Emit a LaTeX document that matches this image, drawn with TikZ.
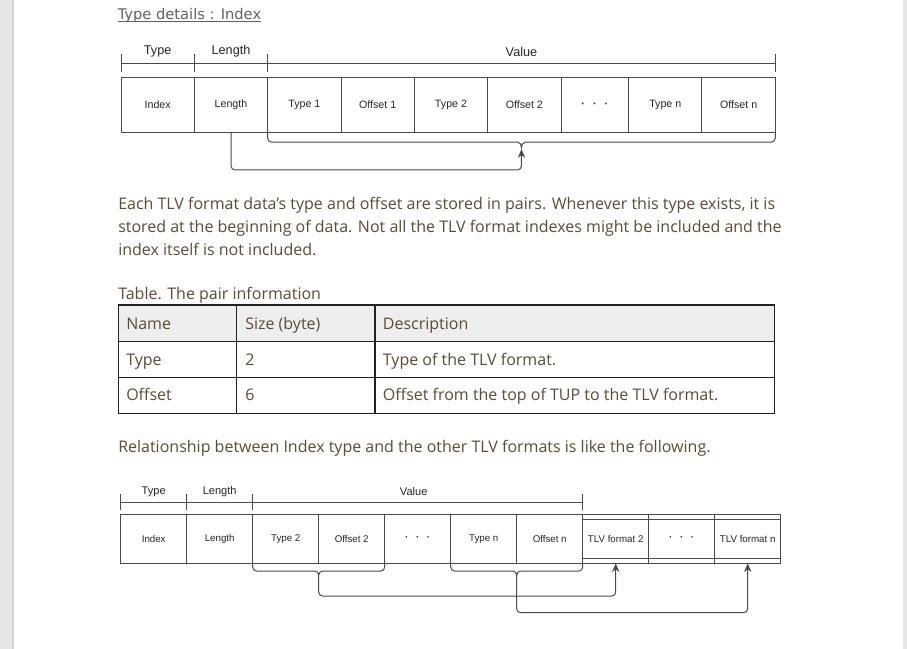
\documentclass[tikz,border=0pt]{standalone}
\usepackage{fontspec}
\setmainfont{Open Sans}
\newfontfamily\diagfont{Liberation Sans}
\newfontfamily\titlefont{DejaVu Sans}
\usetikzlibrary{positioning,calc,arrows.meta}
\definecolor{bodytext}{HTML}{5E4B33}
\definecolor{titlegray}{HTML}{5F6368}
\definecolor{linegray}{HTML}{4A4A4A}
\definecolor{tablegray}{HTML}{222222}
\definecolor{headfill}{HTML}{EEEEEE}
\definecolor{pagegray}{HTML}{E6E6E6}

\begin{document}
\begin{tikzpicture}[x=0.75pt,y=-0.75pt,
    cellA/.style={draw=linegray, line width=0.75pt, outer sep=0pt, inner sep=0pt,
        minimum width=55pt, minimum height=41.5pt, text=black!85,
        font=\diagfont\fontsize{8}{9}\selectfont},
    cellB/.style={cellA, minimum width=49.5pt, minimum height=37pt,
        font=\diagfont\fontsize{7.3}{9}\selectfont},
    hdrA/.style={inner sep=0pt, text=black!85, font=\diagfont\fontsize{9.5}{11}\selectfont},
    hdrB/.style={hdrA, font=\diagfont\fontsize{8.3}{10}\selectfont},
    conn/.style={draw=linegray, line width=0.75pt},
    tip/.style={-{Stealth[length=6.5pt,width=5.5pt]}},
    bodytxt/.style={inner sep=0pt, anchor=base west, text=bodytext,
        font=\fontsize{12}{14}\selectfont},
    tblline/.style={draw=tablegray, line width=1.1pt}
]
    % page
    \useasboundingbox (0,0) rectangle (907,649);
    \fill[white] (0,0) rectangle (907,649);
    \fill[pagegray] (0,0) rectangle (14,649);
    \fill[black!17] (12,0) rectangle (14,649);
    \fill[pagegray] (903,0) rectangle (907,649);

    % title
    \node[inner sep=0pt, anchor=base west, text=titlegray, font=\titlefont\fontsize{11}{13}\selectfont] (title) at (117.5,20) {Type details : Index};
    \draw[titlegray, line width=0.7pt] ([yshift=-1.3pt]title.base west) -- ([yshift=-1.3pt]title.base east);

    % upper layout
    \node[cellA, anchor=north west] (idx) at (121,77.3) {Index};
    \node[cellA, right=0pt of idx] (len) {Length};
    \node[cellA, right=0pt of len] (ty1) {Type 1};
    \node[cellA, right=0pt of ty1] (of1) {Offset 1};
    \node[cellA, right=0pt of of1] (ty2) {Type 2};
    \node[cellA, right=0pt of ty2] (of2) {Offset 2};
    \node[cellA, right=0pt of of2, minimum width=50.7pt] (dotsA) {\bfseries·\hspace{6pt}·\hspace{6pt}·};
    \node[cellA, right=0pt of dotsA] (tyn) {Type n};
    \node[cellA, right=0pt of tyn] (ofn) {Offset n};

    \draw[conn] ([yshift=10.5pt]idx.north west) -- ([yshift=10.5pt]ofn.north east);
    \foreach \n in {idx,len,ty1}
        \draw[conn] ([yshift=4.2pt]\n.north west) -- ([yshift=17.1pt]\n.north west);
    \draw[conn] ([yshift=4.2pt]ofn.north east) -- ([yshift=17.1pt]ofn.north east);
    \node[hdrA] (hType) at ([yshift=19.2pt]idx.north) {Type};
    \node[hdrA] (hLen) at ([yshift=19.2pt]len.north) {Length};
    \node[hdrA] (hVal) at ([yshift=19.2pt]$(ty1.north west)!0.5!(ofn.north east)$) {Value};

    % brace under the value part
    \coordinate (vmid) at ($(ty1.south west)!0.5!(ofn.south east)$);
    \coordinate (vtip) at ($(vmid)+(0,15)$);
    \draw[conn] (ty1.south west) -- ++(0,5.5) to[out=-90,in=180] ++(4,4)
        -- ($(vmid)+(-4,9.5)$) to[out=0,in=90] (vtip) to[out=90,in=180] ($(vmid)+(4,9.5)$)
        -- ($(ofn.south east)+(-4,9.5)$) to[out=0,in=-90] ($(ofn.south east)+(0,5.5)$) -- (ofn.south east);
    \draw[conn, tip, rounded corners=3pt] (len.south) -- ++(0,37.3) -| ($(vtip)+(0,1.5)$);

    % text
    \node[bodytxt] (para1) at (118,209.5) {Each TLV format data’s type and offset are stored in pairs. Whenever this type exists, it is};
    \node[bodytxt] (para2) at (118,232.5) {stored at the beginning of data. Not all the TLV format indexes might be included and the};
    \node[bodytxt] (para3) at (118,255.5) {index itself is not included.};
    \node[bodytxt] (tcap) at (118,299) {Table. The pair information};

    % table
    \fill[headfill] (118.3,305) rectangle (774.3,341.7);
    \draw[tblline] (118.3,305) rectangle (774.3,413.3);
    \draw[tblline] (118.3,341.7) -- (774.3,341.7);
    \draw[tblline] (118.3,377.7) -- (774.3,377.7);
    \draw[tblline] (236.7,305) -- (236.7,413.3);
    \draw[tblline] (375,305) -- (375,413.3);
    \node[bodytxt] (tName) at (126,329) {Name};
    \node[bodytxt] (tSize) at (245,329) {Size (byte)};
    \node[bodytxt] (tDesc) at (382.7,329) {Description};
    \node[bodytxt] (tType) at (126,365) {Type};
    \node[bodytxt] (tTypeSz) at (245,365) {2};
    \node[bodytxt] (tTypeDs) at (382.7,365) {Type of the TLV format.};
    \node[bodytxt] (tOff) at (126,400.7) {Offset};
    \node[bodytxt] (tOffSz) at (245,400.7) {6};
    \node[bodytxt] (tOffDs) at (382.7,400.7) {Offset from the top of TUP to the TLV format.};

    \node[bodytxt] (rel) at (118,452) {Relationship between Index type and the other TLV formats is like the following.};

    % lower layout
    \node[cellB, anchor=north west] (bidx) at (120.7,514) {Index};
    \node[cellB, right=0pt of bidx] (blen) {Length};
    \node[cellB, right=0pt of blen] (bty2) {Type 2};
    \node[cellB, right=0pt of bty2] (bof2) {Offset 2};
    \node[cellB, right=0pt of bof2] (bdots) {\bfseries·\hspace{5.7pt}·\hspace{5.7pt}·};
    \node[cellB, right=0pt of bdots] (btyn) {Type n};
    \node[cellB, right=0pt of btyn] (bofn) {Offset n};
    \node[cellB, right=0pt of bofn] (tf2) {TLV format 2};
    \node[cellB, right=0pt of tf2] (tfdots) {\bfseries·\hspace{5.7pt}·\hspace{5.7pt}·};
    \node[cellB, right=0pt of tfdots] (tfn) {TLV format n};
    \draw[conn] ([yshift=-3.75pt]tf2.north west) -- ([yshift=-3.75pt]tfn.north east);
    \draw[conn] ([yshift=3.45pt]tf2.south west) -- ([yshift=3.45pt]tfn.south east);

    \draw[conn] ([yshift=8.8pt]bidx.north west) -- ([yshift=8.8pt]bofn.north east);
    \foreach \n in {bidx,blen,bty2}
        \draw[conn] ([yshift=3pt]\n.north west) -- ([yshift=15pt]\n.north west);
    \draw[conn] ([yshift=3pt]bofn.north east) -- ([yshift=15pt]bofn.north east);
    \node[hdrB] (bhType) at ([yshift=16.5pt]bidx.north) {Type};
    \node[hdrB] (bhLen) at ([yshift=16.5pt]blen.north) {Length};
    \node[hdrB] (bhVal) at ([xshift=-3pt,yshift=16.5pt]$(bty2.north west)!0.5!(bofn.north east)$) {Value};

    % braces under the pairs
    \coordinate (p2mid) at ($(bty2.south west)!0.5!(bof2.south east)$);
    \coordinate (p2tip) at ($(p2mid)+(0,11.7)$);
    \draw[conn] (bty2.south west) -- ++(0,3.7) to[out=-90,in=180] ++(4,4)
        -- ($(p2mid)+(-4,7.7)$) to[out=0,in=90] (p2tip) to[out=90,in=180] ($(p2mid)+(4,7.7)$)
        -- ($(bof2.south east)+(-4,7.7)$) to[out=0,in=-90] ($(bof2.south east)+(0,3.7)$) -- (bof2.south east);
    \coordinate (pnmid) at ($(btyn.south west)!0.5!(bofn.south east)$);
    \coordinate (pntip) at ($(pnmid)+(0,11.7)$);
    \draw[conn] (btyn.south west) -- ++(0,3.7) to[out=-90,in=180] ++(4,4)
        -- ($(pnmid)+(-4,7.7)$) to[out=0,in=90] (pntip) to[out=90,in=180] ($(pnmid)+(4,7.7)$)
        -- ($(bofn.south east)+(-4,7.7)$) to[out=0,in=-90] ($(bofn.south east)+(0,3.7)$) -- (bofn.south east);

    \draw[conn, tip, rounded corners=3pt] (p2tip) -- ++(0,21) -| (tf2.south);
    \draw[conn, tip, rounded corners=3pt] (pntip) -- ++(0,37.7) -| (tfn.south);
\end{tikzpicture}
\end{document}
